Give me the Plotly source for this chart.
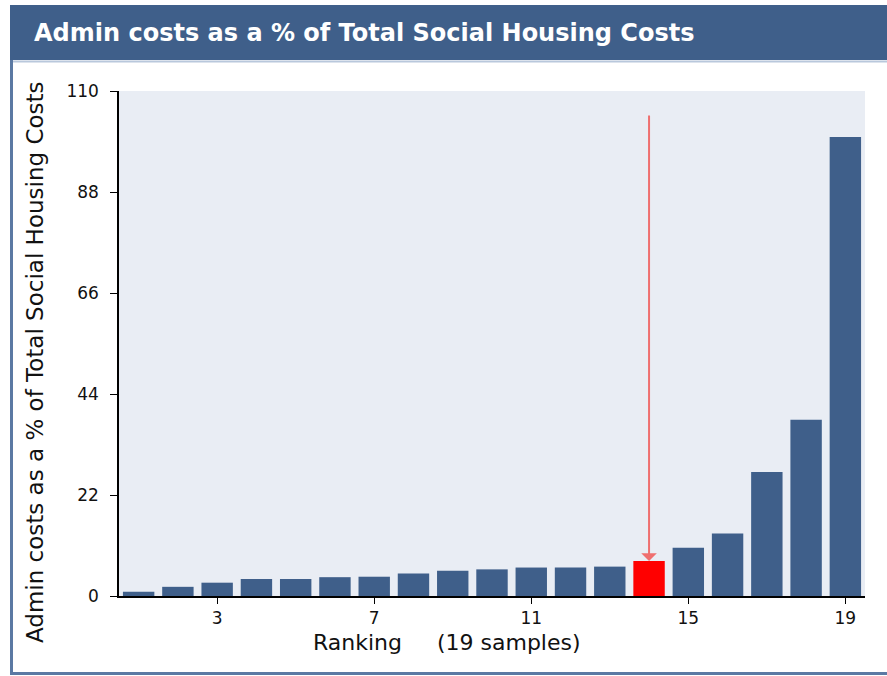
import plotly.graph_objects as go

# ---- data ----
ranks = list(range(1, 20))
values = [0.9, 2.0, 2.9, 3.7, 3.7, 4.1, 4.2, 4.9, 5.5, 5.8,
          6.2, 6.2, 6.4, 7.6, 10.5, 13.6, 27.0, 38.4, 100.0]
highlight_rank = 14
y_ticks = [0, 22, 44, 66, 88, 110]
x_ticks = [3, 7, 11, 15, 19]
title_text = "Admin costs as a % of Total Social Housing Costs"
y_title = "Admin costs as a % of Total Social Housing Costs"
x_title_left = "Ranking"
x_title_right = "(19 samples)"

# ---- style ----
W, H = 887, 676
ML, MR, MT, MB = 119, 22, 91, 80
PW, PH = W - ML - MR, H - MT - MB
BAR = "#3f5f8a"
HI = "#ff0000"
FRAME = "#5b79a3"


def px(x):
    return (x - ML) / PW


def py(y):
    return (H - MB - y) / PH


colors = [HI if r == highlight_rank else BAR for r in ranks]

fig = go.Figure(go.Bar(x=ranks, y=values, marker=dict(color=colors, line=dict(width=0)),
                       width=0.8, hoverinfo="x+y"))

hi_val = values[ranks.index(highlight_rank)]

fig.update_layout(
    width=W, height=H,
    margin=dict(l=ML, r=MR, t=MT, b=MB, pad=0),
    paper_bgcolor="white",
    plot_bgcolor="#e9edf4",
    showlegend=False,
    font=dict(family="DejaVu Sans", size=17, color="#111111"),
    xaxis=dict(range=[0.5, 19.5], tickvals=x_ticks, ticks="outside", ticklen=6,
               tickcolor="black", showline=True, linecolor="black", linewidth=1.5,
               showgrid=False, zeroline=False, ticklabelstandoff=0,
               tickfont=dict(family="DejaVu Sans", size=17, color="#111111")),
    yaxis=dict(range=[0, 110], tickvals=y_ticks, ticks="outside", ticklen=7,
               tickcolor="black", showline=True, linecolor="black", linewidth=1.5,
               showgrid=False, zeroline=False, ticklabelstandoff=8,
               tickfont=dict(family="DejaVu Sans", size=17, color="#111111")),
    shapes=[
        # title bar
        dict(type="rect", xref="paper", yref="paper", x0=px(10), x1=px(W + 2),
             y0=py(60), y1=py(5), fillcolor="#3f5f8a", line=dict(width=0), layer="below"),
        dict(type="line", xref="paper", yref="paper", x0=px(10), x1=px(W + 2),
             y0=py(61.5), y1=py(61.5), line=dict(color="#b9c8dc", width=2)),
        # frame left and bottom
        dict(type="line", xref="paper", yref="paper", x0=px(11.5), x1=px(11.5),
             y0=py(60), y1=py(674), line=dict(color=FRAME, width=3)),
        dict(type="line", xref="paper", yref="paper", x0=px(10), x1=px(W + 2),
             y0=py(673.5), y1=py(673.5), line=dict(color=FRAME, width=3)),
    ],
    annotations=[
        dict(text=title_text, xref="paper", yref="paper", x=px(32), y=py(33),
             xanchor="left", yanchor="middle", showarrow=False,
             font=dict(family="DejaVu Sans", size=24, color="white", weight="bold")),
        dict(text=y_title, xref="paper", yref="paper", x=px(35), y=py(362),
             xanchor="center", yanchor="middle", textangle=-90, showarrow=False,
             font=dict(family="DejaVu Sans", size=23, color="#111111")),
        dict(text=x_title_left + "\u00a0" * 5 + x_title_right, xref="paper", yref="paper",
             x=px(447), y=py(642), xanchor="center", yanchor="middle", showarrow=False,
             font=dict(family="DejaVu Sans", size=22, color="#111111")),
        dict(x=highlight_rank, y=hi_val, ax=highlight_rank, ay=105, xref="x", yref="y",
             axref="x", ayref="y", showarrow=True, arrowhead=1, arrowsize=1.3,
             arrowwidth=2, arrowcolor="#ef6f6f", text=""),
    ],
)

fig.write_html("out.html")
